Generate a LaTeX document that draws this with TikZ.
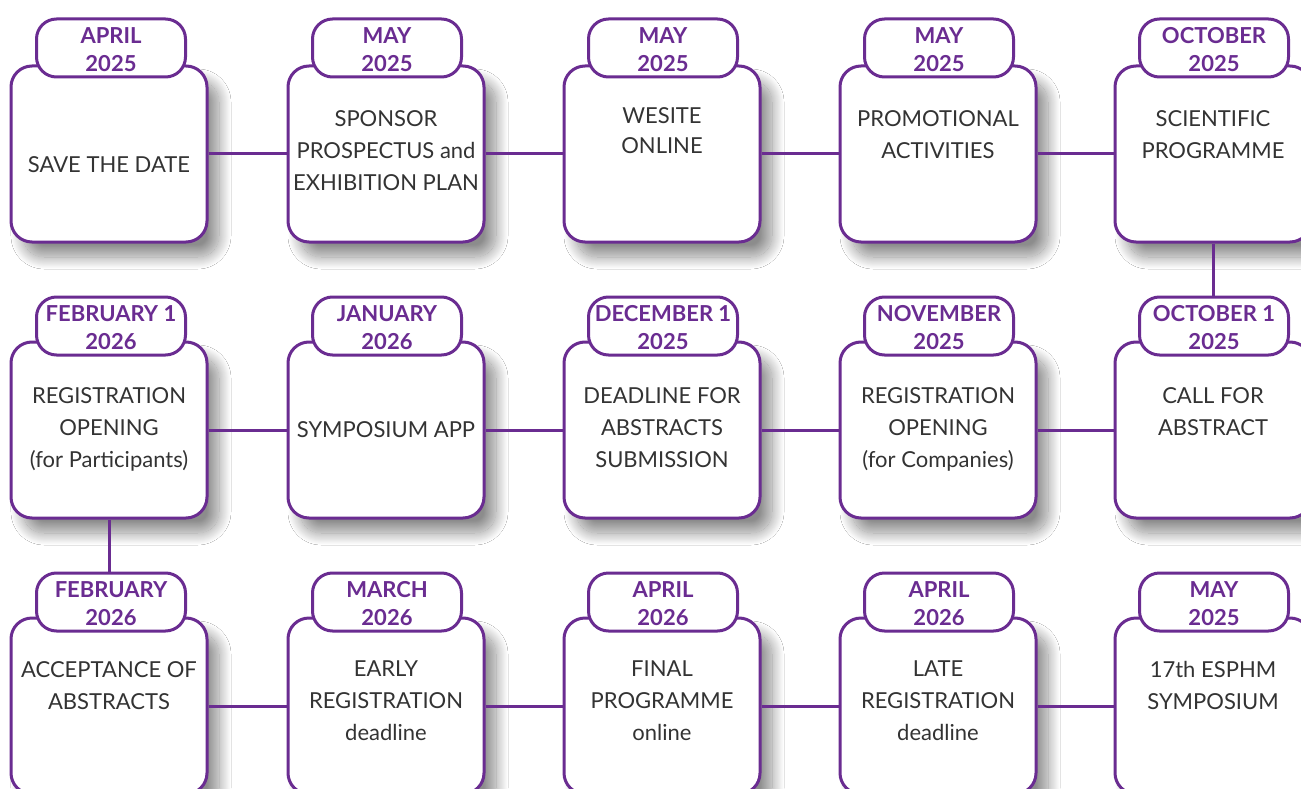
\documentclass[tikz,border=0pt]{standalone}
\usepackage{fontspec}
\setmainfont{Lato}
\usetikzlibrary{shadows.blur}
\definecolor{purp}{HTML}{6A2C91}
\definecolor{txt}{HTML}{333333}
\tikzset{
  box/.style={draw=purp, line width=3pt, rounded corners=21pt, fill=white,
    minimum width=196pt, minimum height=176pt, inner sep=0pt,
    blur shadow={shadow xshift=12pt, shadow yshift=-15pt, shadow blur radius=12pt,
      shadow blur steps=30, shadow opacity=45}},
  tab/.style={draw=purp, line width=3pt, rounded corners=20pt, fill=white,
    minimum width=149pt, minimum height=58pt, inner sep=0pt},
  datelbl/.style={text=purp, font=\fontsize{22}{28}\selectfont\bfseries, align=center,
    inner sep=0pt, yshift=-2pt},
  body/.style={text=txt, font=\fontsize{22}{32}\selectfont, align=center, inner sep=0pt, anchor=north},
  conn/.style={draw=purp, line width=3pt}
}
\begin{document}
\begin{tikzpicture}[x=1pt,y=-1pt]
\useasboundingbox[fill=white] (0,0) rectangle (1301,789);
\def\ca{109}\def\cb{386}\def\cc{662}\def\cd{938}\def\ce{1213}
\def\ra{154}\def\rb{430}\def\rc{706}
% boxes
\node[box] (b11) at (\ca,\ra) {};
\node[box] (b12) at (\cb,\ra) {};
\node[box] (b13) at (\cc,\ra) {};
\node[box] (b14) at (\cd,\ra) {};
\node[box] (b15) at (\ce,\ra) {};
\node[box] (b21) at (\ca,\rb) {};
\node[box] (b22) at (\cb,\rb) {};
\node[box] (b23) at (\cc,\rb) {};
\node[box] (b24) at (\cd,\rb) {};
\node[box] (b25) at (\ce,\rb) {};
\node[box] (b31) at (\ca,\rc) {};
\node[box] (b32) at (\cb,\rc) {};
\node[box] (b33) at (\cc,\rc) {};
\node[box] (b34) at (\cd,\rc) {};
\node[box] (b35) at (\ce,\rc) {};
% tabs
\node[tab] (t11) at (\ca+2,\ra-106) {};
\node[tab] (t12) at (\cb+1,\ra-106) {};
\node[tab] (t13) at (\cc+1,\ra-106) {};
\node[tab] (t14) at (\cd+1,\ra-106) {};
\node[tab] (t15) at (\ce+1,\ra-106) {};
\node[tab] (t21) at (\ca+2,\rb-104) {};
\node[tab] (t22) at (\cb+1,\rb-104) {};
\node[tab] (t23) at (\cc+1,\rb-104) {};
\node[tab] (t24) at (\cd+1,\rb-104) {};
\node[tab] (t25) at (\ce+1,\rb-104) {};
\node[tab] (t31) at (\ca+2,\rc-104) {};
\node[tab] (t32) at (\cb+1,\rc-104) {};
\node[tab] (t33) at (\cc+1,\rc-104) {};
\node[tab] (t34) at (\cd+1,\rc-104) {};
\node[tab] (t35) at (\ce+1,\rc-104) {};
% date labels
\node[datelbl] (d11) at (t11) {APRIL\\2025};
\node[datelbl] (d12) at (t12) {MAY\\2025};
\node[datelbl] (d13) at (t13) {MAY\\2025};
\node[datelbl] (d14) at (t14) {MAY\\2025};
\node[datelbl] (d15) at (t15) {OCTOBER\\2025};
\node[datelbl] (d21) at (t21) {FEBRUARY 1\\2026};
\node[datelbl] (d22) at (t22) {JANUARY\\2026};
\node[datelbl] (d23) at (t23) {DECEMBER 1\\2025};
\node[datelbl] (d24) at (t24) {NOVEMBER\\2025};
\node[datelbl] (d25) at (t25) {OCTOBER 1\\2025};
\node[datelbl] (d31) at (t31) {FEBRUARY\\2026};
\node[datelbl] (d32) at (t32) {MARCH\\2026};
\node[datelbl] (d33) at (t33) {APRIL\\2026};
\node[datelbl] (d34) at (t34) {APRIL\\2026};
\node[datelbl] (d35) at (t35) {MAY\\2025};
% connectors
\draw[conn] (b11.east) -- (b12.west);
\draw[conn] (b12.east) -- (b13.west);
\draw[conn] (b13.east) -- (b14.west);
\draw[conn] (b14.east) -- (b15.west);
\draw[conn] (b15.south) -- (b15.south |- t25.north);
\draw[conn] (b25.west) -- (b24.east);
\draw[conn] (b24.west) -- (b23.east);
\draw[conn] (b23.west) -- (b22.east);
\draw[conn] (b22.west) -- (b21.east);
\draw[conn] (b21.south) -- (b21.south |- t31.north);
\draw[conn] (b31.east) -- (b32.west);
\draw[conn] (b32.east) -- (b33.west);
\draw[conn] (b33.east) -- (b34.west);
\draw[conn] (b34.east) -- (b35.west);
% texts
\node[body, anchor=center] (x11) at (\ca,165) {SAVE THE DATE};
\node[body] (x12) at (\cb,\ra-44) {SPONSOR\\PROSPECTUS and\\EXHIBITION PLAN};
\node[body, font=\fontsize{22}{30}\selectfont] (x13) at (\cc,\ra-47) {WESITE\\ONLINE};
\node[body] (x14) at (\cd,\ra-44) {PROMOTIONAL\\ACTIVITIES};
\node[body] (x15) at (\ce,\ra-44) {SCIENTIFIC\\PROGRAMME};
\node[body] (x21) at (\ca,\rb-43) {REGISTRATION\\OPENING\\(for Participants)};
\node[body, anchor=center] (x22) at (\cb,\rb) {SYMPOSIUM APP};
\node[body] (x23) at (\cc,\rb-43) {DEADLINE FOR\\ABSTRACTS\\SUBMISSION};
\node[body] (x24) at (\cd,\rb-43) {REGISTRATION\\OPENING\\(for Companies)};
\node[body] (x25) at (\ce,\rb-43) {CALL FOR\\ABSTRACT};
\node[body] (x31) at (\ca,\rc-45) {ACCEPTANCE OF\\ABSTRACTS};
\node[body] (x32) at (\cb,\rc-45) {EARLY\\REGISTRATION\\deadline};
\node[body] (x33) at (\cc,\rc-45) {FINAL\\PROGRAMME\\online};
\node[body] (x34) at (\cd,\rc-45) {LATE\\REGISTRATION\\deadline};
\node[body] (x35) at (\ce,\rc-45) {17th ESPHM\\SYMPOSIUM};
\end{tikzpicture}
\end{document}
